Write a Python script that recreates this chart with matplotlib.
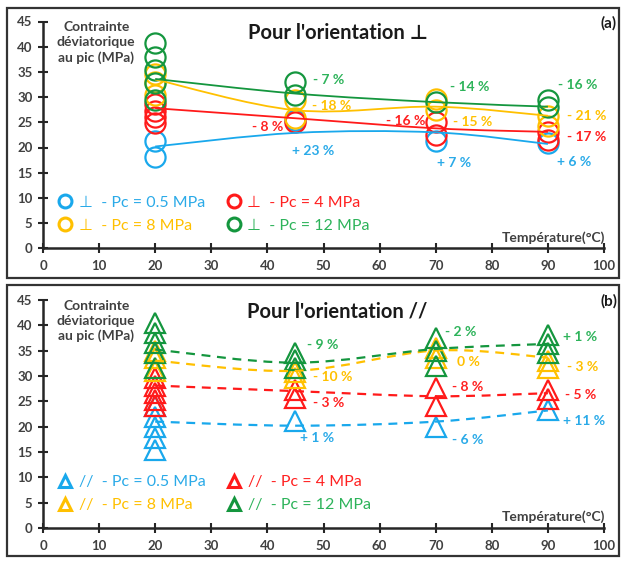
import numpy as np
import matplotlib.pyplot as plt
from matplotlib.path import Path
from matplotlib.patches import PathPatch, Rectangle
from matplotlib.lines import Line2D

plt.rcParams['font.family'] = ['Lato', 'DejaVu Sans']

temps = [20, 45, 70, 90]
pc_names = ['0.5', '4', '8', '12']

# ---- (a) orientation perpendiculaire : points mesures
perp_05_T = [20, 20, 45, 70, 90]
perp_05_v = [21.2, 18.2, 25.5, 21.2, 20.8]
perp_4_T = [20, 20, 20, 20, 45, 70, 70, 90, 90]
perp_4_v = [28.6, 27.3, 26.0, 24.8, 25.0, 25.0, 22.5, 23.1, 21.5]
perp_8_T = [20, 20, 20, 45, 45, 70, 70, 90, 90]
perp_8_v = [34.5, 33.0, 30.5, 29.5, 25.8, 29.6, 27.5, 26.3, 24.3]
perp_12_T = [20, 20, 20, 20, 20, 45, 45, 70, 90, 90]
perp_12_v = [40.7, 38.0, 35.4, 32.7, 29.5, 33.0, 30.5, 29.0, 29.4, 28.1]
# courbes de tendance (valeurs a 20, 45, 70, 90 C)
perp_05_trend = [20.2, 22.9, 23.0, 20.7]
perp_4_trend = [27.8, 25.8, 23.8, 23.1]
perp_8_trend = [33.5, 27.4, 28.1, 26.3]
perp_12_trend = [33.6, 30.7, 29.0, 28.1]
perp_05_pct = ['+ 23 %', '+ 7 %', '+ 6 %']
perp_4_pct = ['- 8 %', '- 16 %', '- 17 %']
perp_8_pct = ['- 18 %', '- 15 %', '- 21 %']
perp_12_pct = ['- 7 %', '- 14 %', '- 16 %']

# ---- (b) orientation parallele
par_05_T = [20, 20, 20, 20, 20, 45, 70, 90]
par_05_v = [24.0, 22.0, 20.0, 17.8, 15.5, 21.2, 19.9, 23.2]
par_4_T = [20, 20, 20, 20, 20, 45, 45, 70, 70, 90, 90]
par_4_v = [29.5, 28.0, 26.7, 25.3, 24.0, 27.2, 25.6, 27.6, 24.0, 27.3, 25.5]
par_8_T = [20, 20, 20, 45, 45, 70, 70, 90, 90]
par_8_v = [35.0, 33.5, 31.0, 30.8, 29.5, 35.5, 33.5, 33.0, 31.5]
par_12_T = [20, 20, 20, 20, 20, 45, 45, 45, 70, 70, 70, 90, 90, 90]
par_12_v = [40.5, 38.5, 36.5, 34.5, 31.5, 34.6, 33.1, 31.5, 37.5, 35.0, 32.0, 38.0, 36.3, 34.6]
par_05_trend = [21.0, 20.2, 21.0, 23.2]
par_4_trend = [28.1, 27.0, 26.0, 26.6]
par_8_trend = [33.0, 31.0, 35.0, 33.6]
par_12_trend = [35.2, 32.6, 35.3, 36.3]
par_05_pct = ['+ 1 %', '- 6 %', '+ 11 %']
par_4_pct = ['- 3 %', '- 8 %', '- 5 %']
par_8_pct = ['- 10 %', '0 %', '- 3 %']
par_12_pct = ['- 9 %', '- 2 %', '+ 1 %']

mark_col = ['#19A8EC', '#FF1A1A', '#FFC000', '#14963E']
text_col = ['#2AAAE8', '#FF2020', '#FFC000', '#2DB35A']

# positions des etiquettes (x, y, alignement)
perp_pos = [
    [(44.4, 19.3, 'left'), (70.2, 17.0, 'left'), (91.6, 17.2, 'left')],
    [(42.8, 24.1, 'right'), (68.1, 25.3, 'right'), (93.4, 22.1, 'left')],
    [(48.0, 28.2, 'left'), (73.1, 25.1, 'left'), (93.4, 26.3, 'left')],
    [(48.1, 33.4, 'left'), (72.5, 32.1, 'left'), (91.8, 32.4, 'left')],
]
par_pos = [
    [(45.8, 17.7, 'left'), (72.9, 17.4, 'left'), (92.7, 21.2, 'left')],
    [(48.1, 24.6, 'left'), (72.9, 27.8, 'left'), (93.0, 26.2, 'left')],
    [(48.1, 29.8, 'left'), (73.8, 32.8, 'left'), (93.4, 31.7, 'left')],
    [(47.0, 36.1, 'left'), (71.7, 38.6, 'left'), (92.7, 37.7, 'left')],
]


def smooth_path(xs, ys):
    pts = np.column_stack([xs, ys]).astype(float)
    ext = np.vstack([pts[0], pts, pts[-1]])
    verts = [pts[0]]
    codes = [Path.MOVETO]
    for i in range(len(pts) - 1):
        p0, p1, p2, p3 = ext[i], ext[i + 1], ext[i + 2], ext[i + 3]
        verts += [p1 + (p2 - p0) / 6, p2 - (p3 - p1) / 6, p2]
        codes += [Path.CURVE4] * 3
    return Path(verts, codes)


def panel(ax, pts, trends, pcts, pos, marker, ms, ls, sym, title, tag):
    ax.set_xlim(0, 100)
    ax.set_ylim(0, 45)
    for sp in ['top', 'right']:
        ax.spines[sp].set_visible(False)
    for sp in ['left', 'bottom']:
        ax.spines[sp].set_linewidth(1.8)
        ax.spines[sp].set_color('#262626')
    ax.set_xticks(range(0, 101, 10))
    ax.set_yticks(range(0, 46, 5))
    ax.tick_params(direction='inout', length=7, width=1.5, color='#262626',
                   labelsize=9.5, labelcolor='#404040', pad=5)
    ax.tick_params(axis='y', pad=4)
    for lbl in ax.get_xticklabels() + ax.get_yticklabels():
        lbl.set_fontweight('bold')

    for k, (T, v) in enumerate(pts):
        ax.plot(T, v, linestyle='none', marker=marker, ms=ms, mfc='none',
                mec=mark_col[k], mew=1.6, zorder=3)
    for k, tr in enumerate(trends):
        ax.add_patch(PathPatch(smooth_path(temps, tr), fill=False, ec=mark_col[k],
                               lw=1.3 if ls == '-' else 1.6, ls=ls, zorder=4))
    for k in range(4):
        for txt, (x, y, ha) in zip(pcts[k], pos[k]):
            ax.text(x, y, txt, color=text_col[k], fontsize=10, fontweight='bold',
                    ha=ha, va='center', zorder=5)

    handles = []
    labels = []
    for k in [0, 2, 1, 3]:
        handles.append(Line2D([], [], linestyle='none', marker=marker, ms=ms * 0.64,
                              mfc='none', mec=mark_col[k], mew=2.2))
        labels.append(sym + '  - Pc = ' + pc_names[k] + ' MPa')
    leg = ax.legend(handles, labels, ncol=2, loc='center left', frameon=False,
                    bbox_to_anchor=(0.025, 0.151), borderpad=0, borderaxespad=0,
                    handlelength=1.0, handletextpad=0.35, columnspacing=1.3,
                    labelspacing=0.55, fontsize=11.5)
    for t, k in zip(leg.get_texts(), [0, 2, 1, 3]):
        t.set_color(text_col[k])

    ax.text(9.5, 40.8, 'Contrainte\ndéviatorique\nau pic (MPa)', ha='center', va='center',
            fontsize=10, fontweight='bold', color='#404040', linespacing=1.3)
    ax.text(100.2, 2.2, 'Température(°C)', ha='right', va='center', fontsize=10,
            fontweight='bold', color='#404040')
    ax.text(52.5, 42.7, title, ha='center', va='center', fontsize=14.5,
            fontweight='bold', color='#1a1a1a')
    ax.text(100.9, 44.6, tag, ha='center', va='center', fontsize=11,
            fontweight='bold', color='#1a1a1a', clip_on=False)


fig = plt.figure(figsize=(6.26, 5.61), dpi=100)
W, H = 626.0, 561.0
ax1 = fig.add_axes([43 / W, 1 - 248.3 / H, 561 / W, 226.8 / H])
ax2 = fig.add_axes([43 / W, 1 - 528.3 / H, 561 / W, 228.6 / H])

panel(ax1,
      [(perp_05_T, perp_05_v), (perp_4_T, perp_4_v), (perp_8_T, perp_8_v), (perp_12_T, perp_12_v)],
      [perp_05_trend, perp_4_trend, perp_8_trend, perp_12_trend],
      [perp_05_pct, perp_4_pct, perp_8_pct, perp_12_pct], perp_pos,
      'o', 14.5, '-', '⊥', "Pour l'orientation ⊥", '(a)')
panel(ax2,
      [(par_05_T, par_05_v), (par_4_T, par_4_v), (par_8_T, par_8_v), (par_12_T, par_12_v)],
      [par_05_trend, par_4_trend, par_8_trend, par_12_trend],
      [par_05_pct, par_4_pct, par_8_pct, par_12_pct], par_pos,
      '^', 14, (0, (4, 3)), '//', "Pour l'orientation //", '(b)')

for y0, y1 in [(8, 278), (285, 556)]:
    fig.add_artist(Rectangle((7 / W, 1 - y1 / H), 612 / W, (y1 - y0) / H,
                             transform=fig.transFigure, fill=False, lw=1.6, ec='#333333'))

fig.savefig('out.png', dpi=100)
